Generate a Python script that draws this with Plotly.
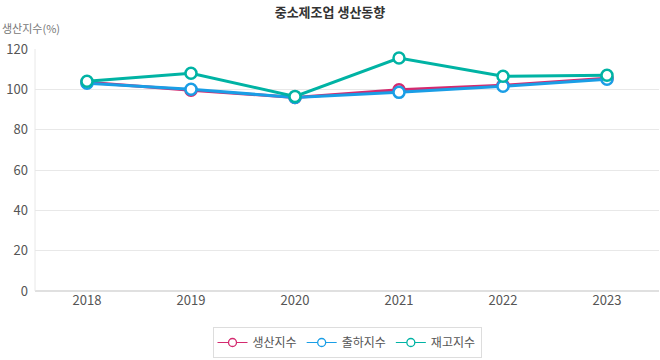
import plotly.graph_objects as go

years = ["2018", "2019", "2020", "2021", "2022", "2023"]
production = [103.5, 99.5, 96.0, 99.8, 102.0, 105.5]
shipment = [103.0, 100.0, 96.0, 98.5, 101.5, 105.0]
inventory = [104.0, 108.0, 96.5, 115.5, 106.5, 107.0]

series = [
    ("생산지수", production, "#d42a6f"),
    ("출하지수", shipment, "#1a9ee6"),
    ("재고지수", inventory, "#00b3a4"),
]

fig = go.Figure()
for name, vals, color in series:
    fig.add_trace(go.Scatter(
        x=years, y=vals, name=name, mode="lines+markers",
        legendgroup=name, showlegend=False,
        line=dict(color=color, width=3),
        marker=dict(symbol="circle", size=11, color="white",
                    line=dict(color=color, width=2.5)),
    ))
# legend-only entries with thin line and small hollow marker
for name, vals, color in series:
    fig.add_trace(go.Scatter(
        x=[None], y=[None], name=name, mode="lines+markers",
        legendgroup=name, showlegend=True,
        line=dict(color=color, width=1.2),
        marker=dict(symbol="circle", size=8, color="white",
                    line=dict(color=color, width=1.3)),
    ))

font = "Noto Sans CJK KR"
fig.update_layout(
    width=660, height=360,
    margin=dict(l=35, r=1, t=49, b=69, autoexpand=False),
    paper_bgcolor="white", plot_bgcolor="white",
    font=dict(family=font, color="#555555", size=13),
    title=dict(text="<b>중소제조업 생산동향</b>", x=0.5, xanchor="center",
               y=1 - 12 / 360, yanchor="middle",
               font=dict(family=font, size=13, color="#333333")),
    showlegend=True,
    legend=dict(orientation="h", x=0.5, xanchor="center",
                y=-(327 - 291) / 242, yanchor="top",
                bordercolor="#dddddd", borderwidth=1,
                font=dict(family=font, size=12, color="#555555"),
                itemwidth=30),
    xaxis=dict(type="category", range=[-0.5, 5.5], showgrid=False, showline=False,
               zeroline=False, automargin=False, ticks="",
               tickfont=dict(size=13, color="#555555")),
    yaxis=dict(range=[0, 120], dtick=20, showgrid=True, gridcolor="#e8e8e8",
               zeroline=True, zerolinecolor="#e0e0e0", showline=False,
               automargin=False, ticks="", ticklabelstandoff=6,
               tickfont=dict(size=13, color="#555555")),
    shapes=[dict(type="line", xref="paper", yref="paper", x0=0, x1=0, y0=0, y1=1,
                 line=dict(color="#e8e8e8", width=1))],
    annotations=[dict(text="생산지수(%)", xref="paper", yref="paper",
                      x=-35 / 624, y=(291 - 28) / 242, xanchor="left", yanchor="middle",
                      showarrow=False, font=dict(family=font, size=11, color="#777777"))],
)

fig.write_html("out.html", config={"displayModeBar": False},
               post_script="document.body.style.margin='0';document.body.style.overflow='hidden';")
